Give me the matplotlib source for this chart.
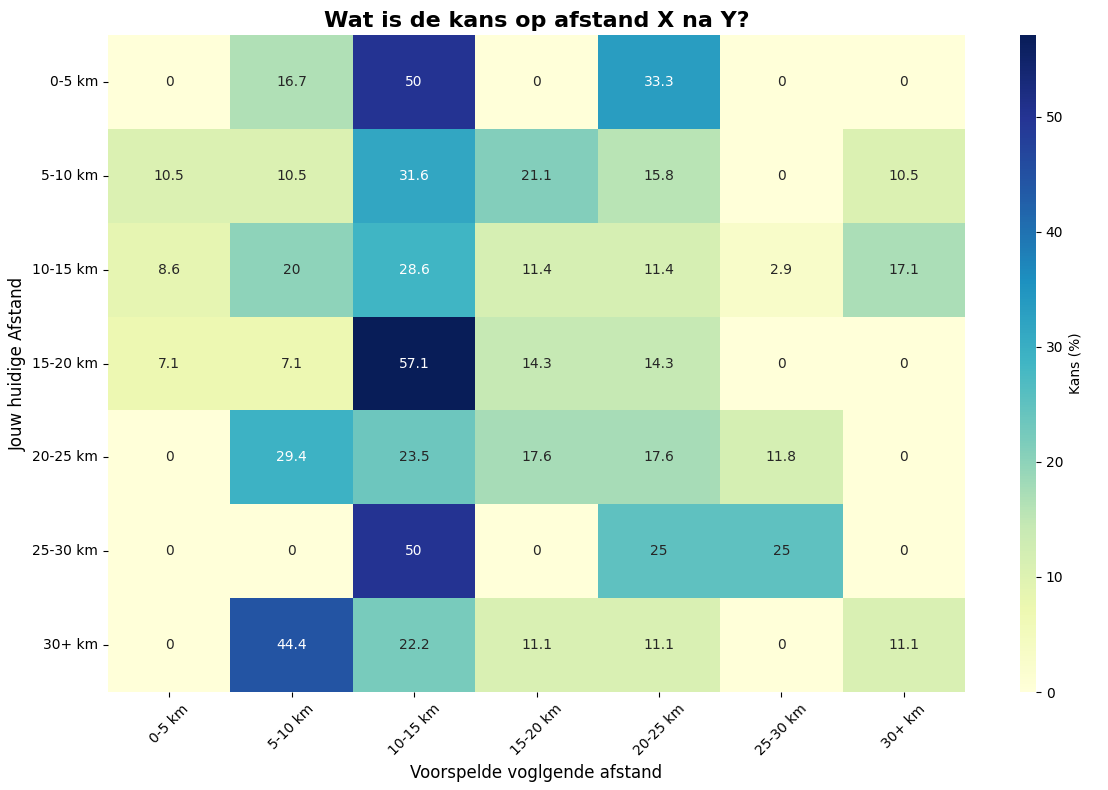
import numpy as np
import matplotlib
matplotlib.use("Agg")
import matplotlib.pyplot as plt
import seaborn as sns

labels = ['0-5 km', '5-10 km', '10-15 km', '15-20 km', '20-25 km', '25-30 km', '30+ km']

row_0_5 = [0, 16.7, 50, 0, 33.3, 0, 0]
row_5_10 = [10.5, 10.5, 31.6, 21.1, 15.8, 0, 10.5]
row_10_15 = [8.6, 20, 28.6, 11.4, 11.4, 2.9, 17.1]
row_15_20 = [7.1, 7.1, 57.1, 14.3, 14.3, 0, 0]
row_20_25 = [0, 29.4, 23.5, 17.6, 17.6, 11.8, 0]
row_25_30 = [0, 0, 50, 0, 25, 25, 0]
row_30p = [0, 44.4, 22.2, 11.1, 11.1, 0, 11.1]

data = np.array([row_0_5, row_5_10, row_10_15, row_15_20, row_20_25, row_25_30, row_30p])

fig = plt.figure(figsize=(11.08, 7.9), dpi=100)
ax = fig.add_axes([0.0975, 0.124, 0.7735, 0.8316])
cax = fig.add_axes([0.9206, 0.124, 0.0144, 0.8316])
sns.heatmap(data, annot=True, fmt='g', cmap='YlGnBu',
            xticklabels=labels, yticklabels=labels,
            ax=ax, cbar_ax=cax, cbar_kws={'label': 'Kans (%)'})
ax.set_title('Wat is de kans op afstand X na Y?', fontsize=16, fontweight='bold')
ax.set_xlabel('Voorspelde voglgende afstand', fontsize=12)
ax.set_ylabel('Jouw huidige Afstand', fontsize=12)
ax.tick_params(axis='x', rotation=45)
ax.tick_params(axis='y', rotation=0)
plt.savefig('out.png', dpi=100)
